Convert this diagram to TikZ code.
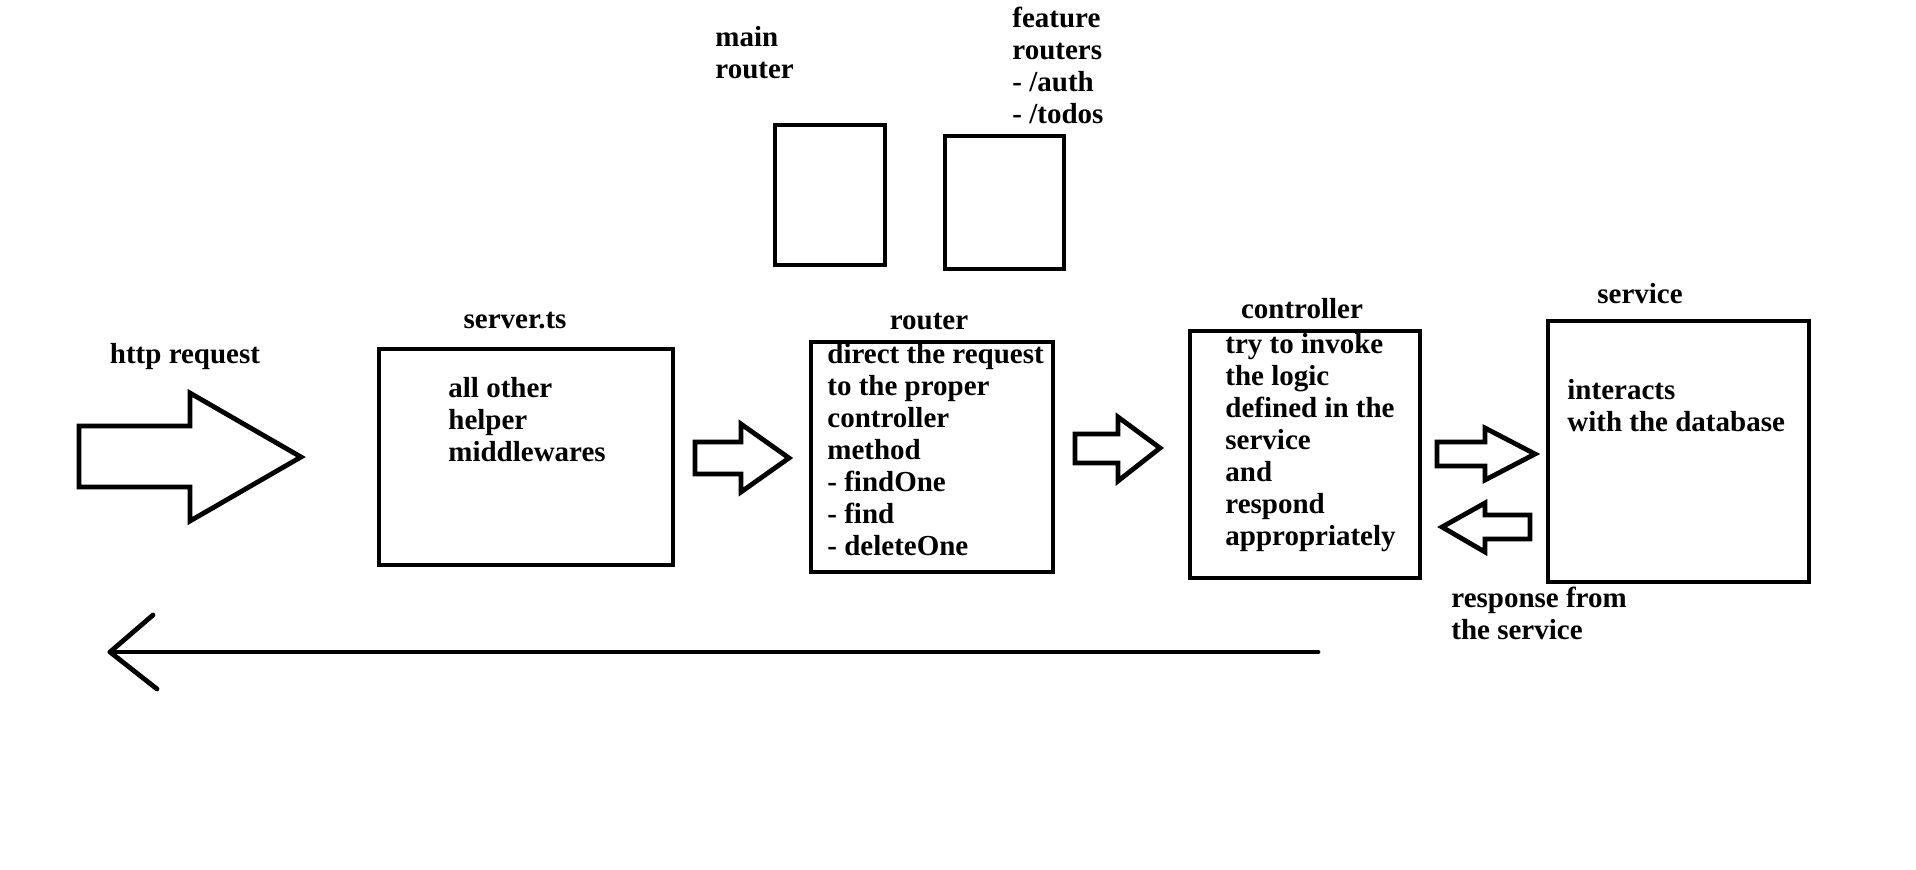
\documentclass[tikz,border=0pt]{standalone}
\usepackage{fontspec}
\setmainfont{Liberation Serif}
\begin{document}
\begin{tikzpicture}[x=0.5pt,y=-0.5pt,line width=2.4pt,
        txt/.style={inner sep=0pt, align=left, anchor=base west,
            font=\fontsize{14.5}{16}\selectfont\bfseries},
        ttl/.style={txt, anchor=base},
        fat/.style={draw, line join=miter}]
    \useasboundingbox (0,0) rectangle (1916,869);
    % boxes
    \draw (379,349) rectangle (673,565);
    \draw (811,342) rectangle (1053,572);
    \draw (1190,331) rectangle (1420,578);
    \draw (1548,321) rectangle (1809,582);
    \draw (775,125) rectangle (885,265);
    \draw (945,136) rectangle (1064,269);
    % titles
    \node[ttl] (http) at (185,363) {http request};
    \node[ttl] (srvt) at (515,328) {server.ts};
    \node[ttl] (rtrt) at (929,329) {router};
    \node[ttl] (ctlt) at (1302,318) {controller};
    \node[ttl] (svct) at (1640,303) {service};
    \node[txt] (mainrt) at (713,78) {main\\router};
    \node[txt] (featrt) at (1010,123) {feature\\routers\\- /auth\\- /todos};
    % box texts (anchored on the last line)
    \node[txt] (srv) at (446,461) {all other\\helper\\middlewares};
    \node[txt] (rtr) at (825,555) {direct the request\\to the proper\\controller\\method\\- findOne\\- find\\- deleteOne};
    \node[txt] (ctl) at (1223,545) {try to invoke\\the logic\\defined in the\\service\\and\\respond\\appropriately};
    \node[txt] (svc) at (1565,431) {interacts\\with the database};
    \node[txt] (resp) at (1449,639) {response from\\the service};
    % block arrows
    \draw[fat] (79,426) -- (190,426) -- (190,393) -- (301,457) -- (190,521) -- (190,487) -- (79,487) -- cycle;
    \draw[fat] (695,442) -- (741,442) -- (741,424) -- (789,458) -- (741,492) -- (741,474) -- (695,474) -- cycle;
    \draw[fat] (1075,434) -- (1118,434) -- (1118,417) -- (1160,448) -- (1118,481) -- (1118,463) -- (1075,463) -- cycle;
    \draw[fat] (1437,442) -- (1485,442) -- (1485,428) -- (1535,454) -- (1485,480) -- (1485,466) -- (1437,466) -- cycle;
    \draw[fat] (1530,515) -- (1485,515) -- (1485,503) -- (1442,527) -- (1485,552) -- (1485,539) -- (1530,539) -- cycle;
    % way back
    \coordinate (back) at (1318,652);
    \coordinate (client) at (110,652);
    \draw[line cap=round] (back) -- (client);
    \draw[line cap=round, line join=round] (153,615) -- (client) -- (157,689);
\end{tikzpicture}
\end{document}
